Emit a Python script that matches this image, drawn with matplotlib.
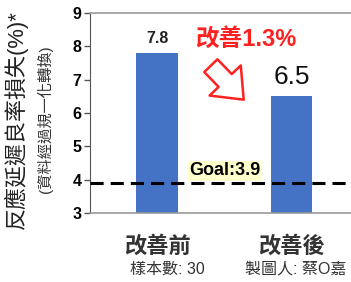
import matplotlib.pyplot as plt
from matplotlib.transforms import blended_transform_factory

plt.rcParams['font.family'] = ['Liberation Sans', 'Noto Sans CJK TC', 'DejaVu Sans']

categories = ['改善前', '改善後']
values = [7.8, 6.5]
sub_labels = ['樣本數: 30', '製圖人: 蔡O嘉']
goal = 3.9
yticks = [3, 4, 5, 6, 7, 8, 9]

fig = plt.figure(figsize=(3.51, 2.82), dpi=100)
ax = fig.add_axes([0.2564, 0.2447, 0.765, 0.7092])

x = list(range(len(categories)))
ax.bar(x, values, width=0.31, color='#4472C4', zorder=2)
ax.axhline(goal, color='black', lw=2.2, ls=(0, (4.3, 2.3)), zorder=3, clip_on=False)

ax.set_xlim(-0.5, 1.5)
ax.set_ylim(3, 9)
ax.set_yticks(yticks)
ax.set_yticklabels([str(t) for t in yticks], fontsize=11.5, fontweight='bold')
ax.tick_params(axis='y', length=4, width=1, color='#555555', pad=2)
ax.set_xticks([])

for s in ['top', 'bottom']:
    ax.spines[s].set_color('#999999')
    ax.spines[s].set_linewidth(1.2)
ax.spines['left'].set_color('#555555')
ax.spines['right'].set_visible(False)

# value labels
ax.text(x[0], values[0] + 0.22, f'{values[0]}', ha='center', va='bottom',
        fontsize=11.5, fontweight='bold', color='#222222')
ax.text(x[1], values[1] + 0.22, f'{values[1]}', ha='center', va='bottom',
        fontsize=19, color='#111111')

# improvement note
ax.text(0.66, 8.22, '改善1.3%', color='#FF2020', fontsize=17, fontweight='bold',
        ha='center', va='center')
ax.annotate('', xy=(0.645, 6.4), xytext=(0.4, 7.42),
            arrowprops=dict(arrowstyle='simple,head_width=1.3,head_length=0.8,tail_width=0.55',
                            mutation_scale=24, fc='white', ec='#FF2020', lw=1.8,
                            shrinkA=0, shrinkB=0))

ax.text(0.505, 4.27, 'Goal:3.9', fontsize=13, fontweight='bold', ha='center', va='center',
        bbox=dict(boxstyle='square,pad=0.08', fc='#FFFFCC', ec='none'), zorder=4)

# category labels
tr = blended_transform_factory(ax.transData, fig.transFigure)
for xi, cat in zip(x, categories):
    ax.text(xi, 1 - 247 / 282, cat, transform=tr, ha='center', va='center',
            fontsize=16, fontweight='bold', color='#333333')
ax.text(0.08, 1 - 269 / 282, sub_labels[0], transform=tr, ha='center', va='center',
        fontsize=11.5, color='#333333')
ax.text(0.654, 1 - 269 / 282, sub_labels[1], transform=tr, ha='left', va='center',
        fontsize=11.5, color='#333333')

# y labels
fig.text(16 / 351, 1 - 120 / 282, '反應延遲良率損失(%)*', rotation=90, ha='center', va='center',
         fontsize=15.8, color='#222222')
fig.text(45 / 351, 1 - 119 / 282, '(資料經過規一化轉換)', rotation=90, ha='center', va='center',
         fontsize=11, color='#333333')

fig.savefig('out.png', dpi=100)
